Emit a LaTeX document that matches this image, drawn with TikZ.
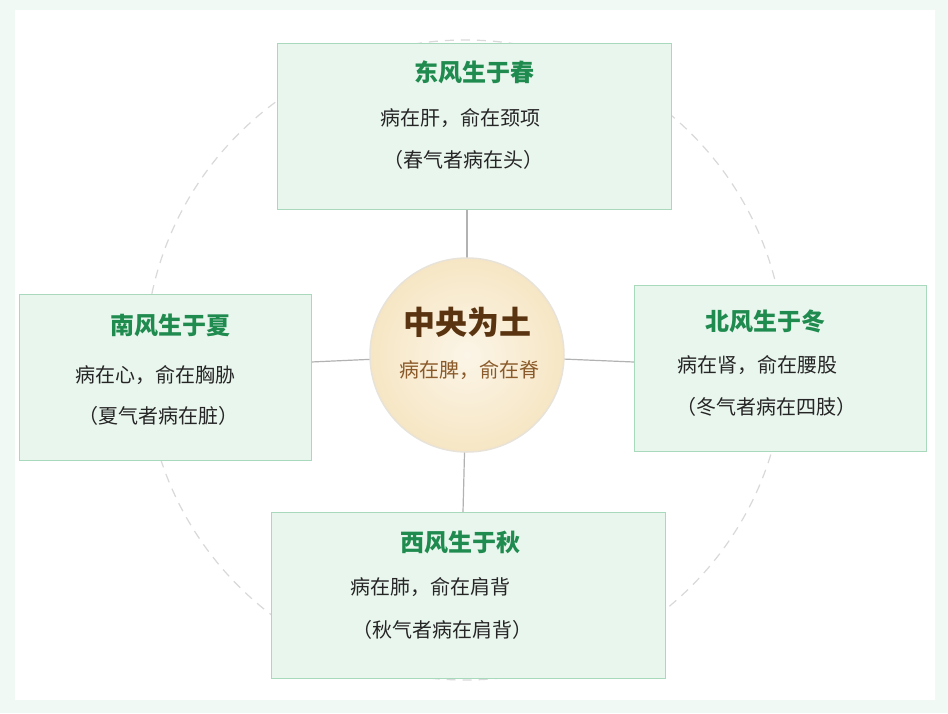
\documentclass[tikz,border=0pt]{standalone}
\usepackage{fontspec}
\setmainfont{Noto Sans CJK SC}
\definecolor{boxfill}{HTML}{E9F6EE}
\definecolor{boxline}{HTML}{A9D9BC}
\definecolor{titlegreen}{HTML}{1F8B4E}
\definecolor{earth}{HTML}{5A3410}
\definecolor{earthsub}{HTML}{8A5A2A}
\definecolor{earthfill}{HTML}{F6E6C4}
\tikzstyle{windbox}=[draw=boxline,fill=boxfill,line width=1pt]
\tikzstyle{title}=[text=titlegreen,font=\fontsize{24}{28}\selectfont\bfseries]
\tikzstyle{body}=[text=black!85,font=\fontsize{20}{24}\selectfont]
\begin{document}
\begin{tikzpicture}[x=1pt,y=-1pt]
\fill[boxfill!70] (0,0) rectangle (948,713);
\fill[white] (15,10) rectangle (935,700);
\useasboundingbox (0,0) rectangle (948,713);
\draw[black!15,dashed,line width=1.2pt,dash pattern=on 9pt off 7pt] (465,360) circle (320);

% spokes
\coordinate (c) at (467,355);
\draw[black!30,line width=1.2pt] (c) -- (467,209);
\draw[black!30,line width=1.2pt] (c) -- (463,512);
\draw[black!30,line width=1.2pt] (c) -- (311,362);
\draw[black!30,line width=1.2pt] (c) -- (634,362);

\draw[windbox] (277,43) rectangle (671,209);
\draw[windbox] (19,294) rectangle (311,460);
\draw[windbox] (634,285) rectangle (926,451);
\draw[windbox] (271,512) rectangle (665,678);

\node[circle,minimum size=194pt,draw=earthfill!80!black!40,line width=1.5pt,
  inner color=earthfill!40,outer color=earthfill] (centre) at (c) {};
\node[text=earth,font=\fontsize{32}{36}\selectfont\bfseries] (ct) at (467,322) {中央为土};
\node[text=earthsub,font=\fontsize{20}{24}\selectfont] (cs) at (469,370) {病在脾，俞在脊};

\node[title] (et) at (474,72) {东风生于春};
\node[body] (e1) at (460,118) {病在肝，俞在颈项};
\node[body] (e2) at (463,160) {（春气者病在头）};

\node[title] (st) at (170,325) {南风生于夏};
\node[body] (s1) at (155,375) {病在心，俞在胸胁};
\node[body] (s2) at (158,416) {（夏气者病在脏）};

\node[title] (nt) at (765,321) {北风生于冬};
\node[body] (n1) at (757,365) {病在肾，俞在腰股};
\node[body] (n2) at (766,407) {（冬气者病在四肢）};

\node[title] (wt) at (460,542) {西风生于秋};
\node[body] (w1) at (430,587) {病在肺，俞在肩背};
\node[body] (w2) at (442,630) {（秋气者病在肩背）};
\end{tikzpicture}
\end{document}
